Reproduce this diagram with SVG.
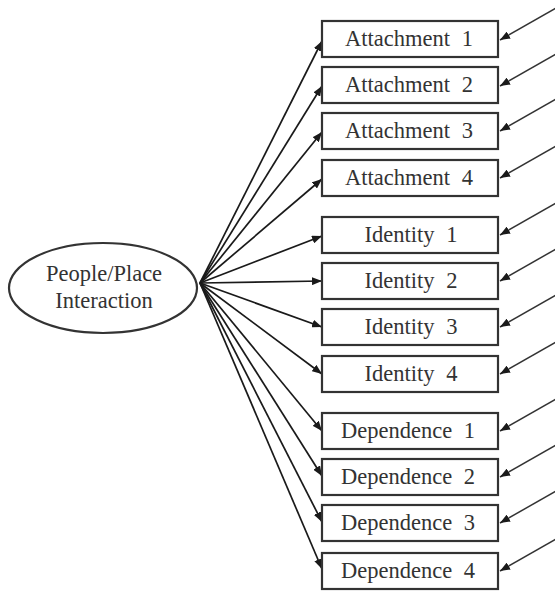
<svg xmlns="http://www.w3.org/2000/svg" width="555" height="591" viewBox="0 0 555 591">
  <defs>
    <marker id="arrow" viewBox="0 0 10 8" refX="10" refY="4" markerWidth="10" markerHeight="8" markerUnits="userSpaceOnUse" orient="auto">
      <path d="M0,0 L10,4 L0,8 Z" fill="#1a1a1a"/>
    </marker>
    <style>
      .box { fill: #ffffff; stroke: #333333; stroke-width: 2.2; }
      .latent { fill: #ffffff; stroke: #333333; stroke-width: 2.2; }
      .label { font-size: 22.5px; fill: #333333; text-anchor: middle; }
      .edge { stroke: #1a1a1a; stroke-width: 1.7; fill: none; marker-end: url(#arrow); }
      .err { stroke: #333333; stroke-width: 1.5; fill: none; marker-end: url(#arrow); }
    </style>
  </defs>
  <rect width="555" height="591" fill="#ffffff"/>

  <!-- loadings from the latent factor and error terms -->
  <g id="connectors">
    <line class="edge" x1="200" y1="283" x2="322" y2="41"/>
    <line class="edge" x1="200" y1="283" x2="322" y2="86"/>
    <line class="edge" x1="200" y1="283" x2="322" y2="132"/>
    <line class="edge" x1="200" y1="283" x2="322" y2="179"/>
    <line class="edge" x1="200" y1="283" x2="322" y2="236"/>
    <line class="edge" x1="200" y1="283" x2="322" y2="281"/>
    <line class="edge" x1="200" y1="283" x2="322" y2="327"/>
    <line class="edge" x1="200" y1="283" x2="322" y2="374"/>
    <line class="edge" x1="200" y1="283" x2="322" y2="431"/>
    <line class="edge" x1="200" y1="283" x2="322" y2="476"/>
    <line class="edge" x1="200" y1="283" x2="322" y2="522"/>
    <line class="edge" x1="200" y1="283" x2="322" y2="569"/>

    <line class="err" x1="556" y1="8" x2="500" y2="40"/>
    <line class="err" x1="556" y1="54" x2="500" y2="86"/>
    <line class="err" x1="556" y1="99" x2="500" y2="131"/>
    <line class="err" x1="556" y1="146" x2="500" y2="178"/>
    <line class="err" x1="556" y1="203" x2="500" y2="235"/>
    <line class="err" x1="556" y1="249" x2="500" y2="281"/>
    <line class="err" x1="556" y1="295" x2="500" y2="327"/>
    <line class="err" x1="556" y1="342" x2="500" y2="374"/>
    <line class="err" x1="556" y1="399" x2="500" y2="431"/>
    <line class="err" x1="556" y1="445" x2="500" y2="477"/>
    <line class="err" x1="556" y1="491" x2="500" y2="523"/>
    <line class="err" x1="556" y1="539" x2="500" y2="571"/>
  </g>

  <g font-family="'Liberation Serif', 'Times New Roman', Times, serif">
  <g id="people-place-interaction">
    <ellipse class="latent" cx="103" cy="288" rx="94" ry="45"/>
    <text class="label" x="104" y="281">People/Place</text>
    <text class="label" x="104" y="308">Interaction</text>
  </g>

  <g id="attachment-1"><rect class="box" x="322" y="21" width="176" height="36"/><text class="label" x="409" y="46">Attachment<tspan dx="6"> 1</tspan></text></g>
  <g id="attachment-2"><rect class="box" x="322" y="67" width="176" height="36"/><text class="label" x="409" y="92">Attachment<tspan dx="6"> 2</tspan></text></g>
  <g id="attachment-3"><rect class="box" x="322" y="113" width="176" height="36"/><text class="label" x="409" y="138">Attachment<tspan dx="6"> 3</tspan></text></g>
  <g id="attachment-4"><rect class="box" x="322" y="160" width="176" height="36"/><text class="label" x="409" y="185">Attachment<tspan dx="6"> 4</tspan></text></g>

  <g id="identity-1"><rect class="box" x="322" y="217" width="176" height="36"/><text class="label" x="411" y="242">Identity<tspan dx="6"> 1</tspan></text></g>
  <g id="identity-2"><rect class="box" x="322" y="263" width="176" height="36"/><text class="label" x="411" y="288">Identity<tspan dx="6"> 2</tspan></text></g>
  <g id="identity-3"><rect class="box" x="322" y="309" width="176" height="36"/><text class="label" x="411" y="334">Identity<tspan dx="6"> 3</tspan></text></g>
  <g id="identity-4"><rect class="box" x="322" y="356" width="176" height="36"/><text class="label" x="411" y="381">Identity<tspan dx="6"> 4</tspan></text></g>

  <g id="dependence-1"><rect class="box" x="322" y="413" width="176" height="36"/><text class="label" x="408" y="438">Dependence<tspan dx="6"> 1</tspan></text></g>
  <g id="dependence-2"><rect class="box" x="322" y="459" width="176" height="36"/><text class="label" x="408" y="484">Dependence<tspan dx="6"> 2</tspan></text></g>
  <g id="dependence-3"><rect class="box" x="322" y="505" width="176" height="36"/><text class="label" x="408" y="530">Dependence<tspan dx="6"> 3</tspan></text></g>
  <g id="dependence-4"><rect class="box" x="322" y="553" width="176" height="36"/><text class="label" x="408" y="578">Dependence<tspan dx="6"> 4</tspan></text></g>
  </g>
</svg>
